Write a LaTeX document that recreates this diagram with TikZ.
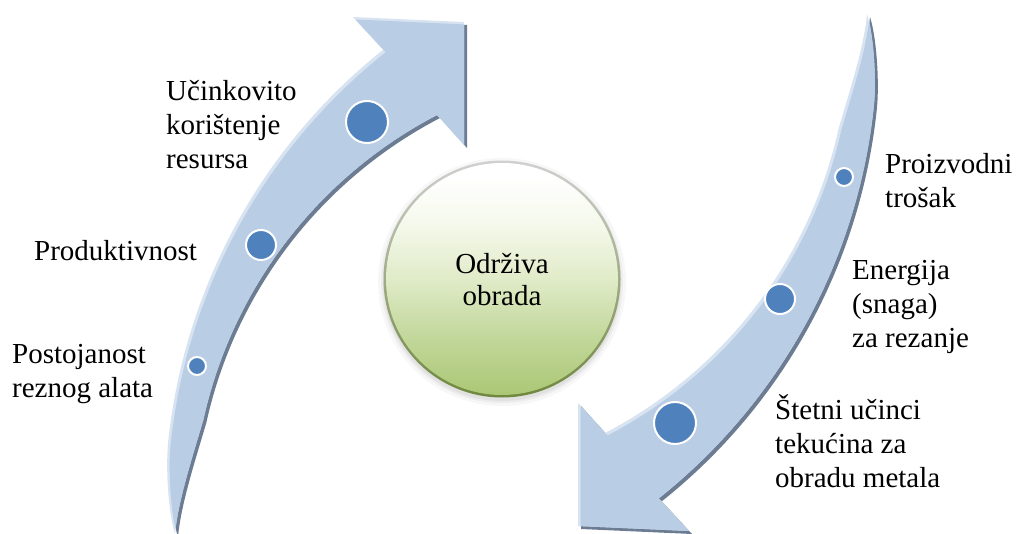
\documentclass[tikz,border=0pt]{standalone}
\usepackage{fontspec}
\setmainfont{Liberation Serif}
\newfontfamily\lbfont{Liberation Serif}
\definecolor{arrowc}{HTML}{B9CDE5}
\definecolor{hlc}{HTML}{D7E3F1}
\definecolor{shadowc}{HTML}{6C7C92}
\definecolor{dotc}{HTML}{4F81BD}
\definecolor{sgA}{HTML}{ABC775}
\definecolor{sgB}{HTML}{C3D89C}
\definecolor{sgC}{HTML}{E0EBC8}
\definecolor{sgD}{HTML}{F5F9EC}
\definecolor{ringtop}{HTML}{D0D0D0}
\definecolor{ringbot}{HTML}{6F873D}
\pgfdeclareverticalshading{spherefill}{100bp}{color(0bp)=(sgA); color(25bp)=(sgA); color(38bp)=(sgB); color(50bp)=(sgC); color(62bp)=(sgD); color(72bp)=(white); color(100bp)=(white)}
\def\apath{(175,534) .. controls (168,512) and (165.6,466) .. (168.2,441.6) arc[start angle=186, end angle=231.5, radius=578] -- (353,17) -- (464,22) -- (464,145) -- (437,115) arc[start angle=242.5, end angle=192.47, radius=454] .. controls (194,452) and (178,500) .. (175,534) -- cycle}
\newcommand\arrowbody[1]{%
  \begin{scope}[shift={(3,3)}]\fill[shadowc,#1] \apath;\end{scope}
  \fill[hlc,#1] \apath;
  \begin{scope}
    \clip[#1] \apath;
    \begin{scope}[shift={(2.5,2.5)}]\fill[arrowc,#1] \apath;\end{scope}
  \end{scope}}
\newcommand\fl{\rule{0pt}{28pt}}
\begin{document}
\begin{tikzpicture}[x=1pt,y=-1pt,
  dot/.style={circle,fill=dotc,draw=white,line width=2pt,inner sep=0pt},
  lbl/.style={inner sep=0pt,align=left,font=\lbfont\fontsize{29}{34}\selectfont},
  clbl/.style={inner sep=0pt,align=center,font=\lbfont\fontsize{29}{32}\selectfont}]
\useasboundingbox (0,0) rectangle (1016,534);
% left arrow
\arrowbody{}
% right arrow
\arrowbody{rotate around={180:(521,274)}}
% dots
\node[dot,minimum size=42pt] (d1) at (367,122) {};
\node[dot,minimum size=30pt] (d2) at (261,245) {};
\node[dot,minimum size=18pt] (d3) at (197,366) {};
\node[dot,minimum size=18pt] (d4) at (844,177) {};
\node[dot,minimum size=30pt] (d5) at (780,299) {};
\node[dot,minimum size=42pt] (d6) at (675,423) {};
% sphere
\foreach \r/\o in {124/0.03,121/0.04,119/0.05}{\fill[black,opacity=\o] (502,282) circle[radius=\r];}
\shade[top color=ringtop,bottom color=ringbot] (502,279) circle[radius=118.5];
\shade[shading=spherefill] (502,279) circle[radius=116];
\node[clbl,anchor=north] (c) at (502,245) {\fl Održiva\\obrada};
% labels
\node[lbl,anchor=north west] (t1) at (166,72) {\fl Učinkovito\\korištenje\\resursa};
\node[lbl,anchor=north west] (t2) at (34,232) {\fl Produktivnost};
\node[lbl,anchor=north west] (t3) at (12,335) {\fl Postojanost\\reznog alata};
\node[lbl,anchor=north west] (t4) at (885,145) {\fl Proizvodni\\trošak};
\node[lbl,anchor=north west] (t5) at (852,251) {\fl Energija\\(snaga)\\za rezanje};
\node[lbl,anchor=north west] (t6) at (775,391) {\fl Štetni učinci\\tekućina za\\obradu metala};
\end{tikzpicture}
\end{document}
